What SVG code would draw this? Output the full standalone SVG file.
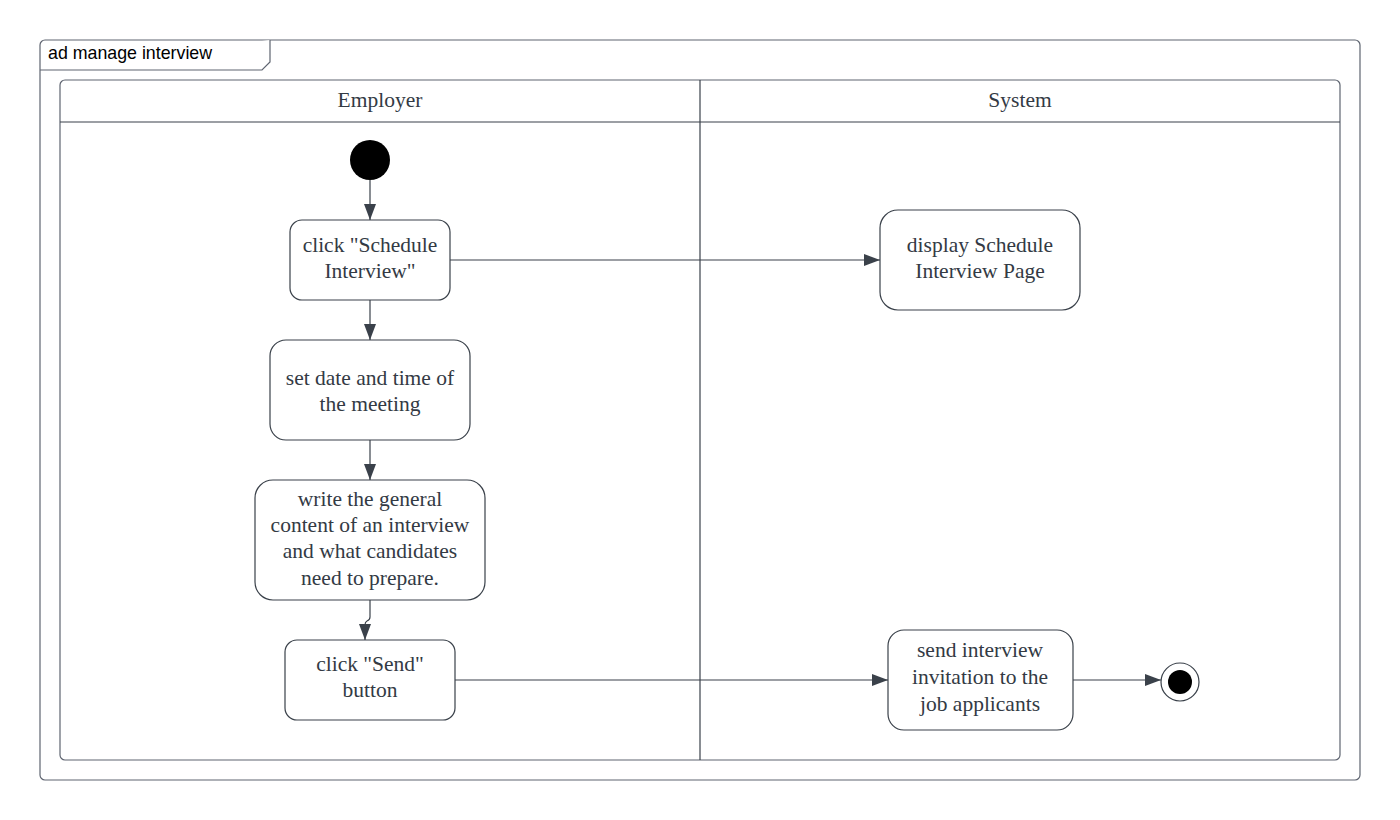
<svg xmlns="http://www.w3.org/2000/svg" width="1400" height="820" viewBox="0 0 1400 820">
<style>
.frame{fill:#fff;stroke:#5e6470;stroke-width:1.2}
.lane{fill:none;stroke:#5e6470;stroke-width:1.2}
.sep{stroke:#3a414a;stroke-width:1.2}
.act{fill:#fff;stroke:#3a414a;stroke-width:1.2}
.t{font-family:"Liberation Serif",serif;font-size:21.5px;fill:#333a44;text-anchor:middle}
.h{font-family:"Liberation Serif",serif;font-size:21.5px;fill:#333a44;text-anchor:middle}
.ft{font-family:"Liberation Sans",Arial,sans-serif;font-size:17.8px;fill:#000}
.c{fill:none;stroke:#3a414a;stroke-width:1.2}
</style>
<defs>
<marker id="arr" markerWidth="16" markerHeight="12" refX="16" refY="6" orient="auto" markerUnits="userSpaceOnUse">
<path d="M0,0 L16,6 L0,12 Z" fill="#3a414a"/>
</marker>
</defs>
<rect width="1400" height="820" fill="#fff"/>
<g id="frame">
<rect class="frame" x="40" y="40" width="1320" height="740" rx="5"/>
<path class="frame" d="M40,70 L262,70 L270,62 L270,40" fill="none"/>
<text class="ft" x="48" y="59">ad manage interview</text>
</g>
<g id="lanes">
<rect class="lane" x="60" y="80" width="1280" height="680" rx="5"/>
<line class="sep" x1="60" y1="122" x2="1340" y2="122"/>
<line class="sep" x1="700" y1="80" x2="700" y2="760"/>
<text class="h" x="380" y="107">Employer</text>
<text class="h" x="1020" y="107">System</text>
</g>
<g id="start"><circle cx="370" cy="160" r="20" fill="#000"/></g>
<g id="n1">
<rect class="act" x="290" y="220" width="160" height="80" rx="12"/>
<text class="t" x="370" y="252">click "Schedule</text>
<text class="t" x="370" y="278">Interview"</text>
</g>
<g id="n2">
<rect class="act" x="270" y="340" width="200" height="100" rx="16"/>
<text class="t" x="370" y="385">set date and time of</text>
<text class="t" x="370" y="411">the meeting</text>
</g>
<g id="n3">
<rect class="act" x="255" y="480" width="230" height="120" rx="18"/>
<text class="t" x="370" y="506">write the general</text>
<text class="t" x="370" y="532">content of an interview</text>
<text class="t" x="370" y="558">and what candidates</text>
<text class="t" x="370" y="585">need to prepare.</text>
</g>
<g id="n4">
<rect class="act" x="285" y="640" width="170" height="80" rx="12"/>
<text class="t" x="370" y="671">click "Send"</text>
<text class="t" x="370" y="697">button</text>
</g>
<g id="s1">
<rect class="act" x="880" y="210" width="200" height="100" rx="18"/>
<text class="t" x="980" y="252">display Schedule</text>
<text class="t" x="980" y="278">Interview Page</text>
</g>
<g id="s2">
<rect class="act" x="888" y="630" width="185" height="100" rx="16"/>
<text class="t" x="980" y="657">send interview</text>
<text class="t" x="980" y="684">invitation to the</text>
<text class="t" x="980" y="711">job applicants</text>
</g>
<g id="end">
<circle cx="1180" cy="682" r="19" fill="#fff" stroke="#3a414a" stroke-width="1.2"/>
<circle cx="1180" cy="682" r="12" fill="#000"/>
</g>
<g id="connectors">
<path class="c" d="M370,180 L370,220" marker-end="url(#arr)"/>
<path class="c" d="M370,300 L370,340" marker-end="url(#arr)"/>
<path class="c" d="M370,440 L370,480" marker-end="url(#arr)"/>
<path class="c" d="M370,600 L370,617 Q370,620 367,621 Q365,622 365,625 L365,640" marker-end="url(#arr)"/>
<path class="c" d="M450,260 L880,260" marker-end="url(#arr)"/>
<path class="c" d="M455,680 L888,680" marker-end="url(#arr)"/>
<path class="c" d="M1073,680 L1161,680" marker-end="url(#arr)"/>
</g>
</svg>
